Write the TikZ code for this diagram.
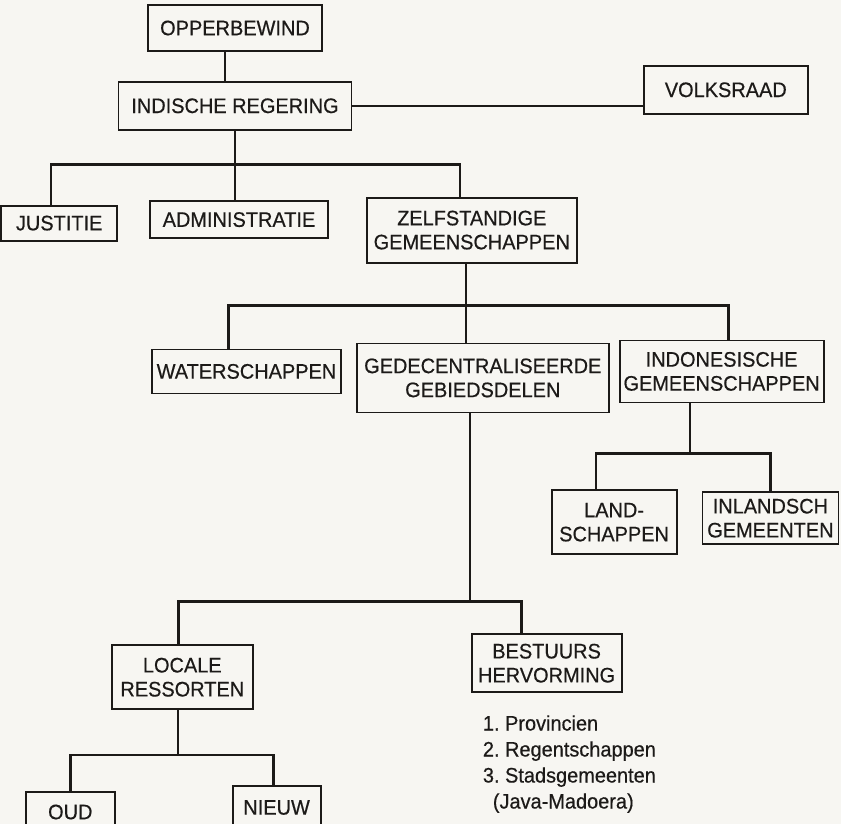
\documentclass[tikz,border=0pt]{standalone}
\usepackage{fontspec}
\setmainfont{Liberation Sans}[FakeStretch=0.95, FakeBold=0.5]
\usetikzlibrary{positioning}
\definecolor{paper}{RGB}{247,246,242}
\definecolor{ink}{RGB}{28,26,24}

\begin{document}
\begin{tikzpicture}[
    x=1pt, y=1pt,
    node distance=30pt,
    box/.style={draw=ink, line width=1.8pt, inner sep=2pt, align=center, text=ink, font=\fontsize{21}{24}\selectfont},
    link/.style={draw=ink, line width=1.8pt},
    bus/.style={draw=ink, line width=2.5pt},
    lbl/.style={inner sep=0pt, align=left, text=ink, font=\fontsize{21}{26}\selectfont\frenchspacing}
  ]

  % Page
  \fill[paper] (0,0) rectangle (841,-824);
  \useasboundingbox (0,0) rectangle (841,-824);

  % Level 1: top of the government
  \node[box, minimum width=174pt, minimum height=46pt] (opper) at (235,-28) {OPPERBEWIND};
  \node[box, below=29pt of opper, minimum width=233pt, minimum height=48pt] (indisch) {INDISCHE REGERING};
  \node[box, right=290.5pt of indisch, yshift=16pt, minimum width=164pt, minimum height=48pt] (volks) {VOLKSRAAD};

  % Level 2: three pillars
  \node[box, below=69.5pt of indisch, xshift=4pt, minimum width=178pt, minimum height=37pt] (admin) {ADMINISTRATIE};
  \node[box, left=31pt of admin, yshift=-3.5pt, minimum width=116pt, minimum height=35pt] (justitie) {JUSTITIE};
  \node[box, right=37pt of admin, yshift=-10.5pt, minimum width=210pt, minimum height=65pt] (zelf) {ZELFSTANDIGE\\GEMEENSCHAPPEN};

  % Level 3: zelfstandige gemeenschappen
  \node[box, below=79pt of zelf, xshift=11pt, minimum width=252pt, minimum height=69pt] (gedec) {GEDECENTRALISEERDE\\GEBIEDSDELEN};
  \node[box, left=14pt of gedec, yshift=6.5pt, minimum width=189pt, minimum height=44pt] (water) {WATERSCHAPPEN};
  \node[box, right=9pt of gedec, yshift=6.5pt, minimum width=204pt, minimum height=62pt] (indon) {INDONESISCHE\\GEMEENSCHAPPEN};

  % Level 4: indonesische gemeenschappen
  \node[box, below=86pt of indon, xshift=-107.5pt, minimum width=125pt, minimum height=64pt] (land) {LAND-\\SCHAPPEN};
  \node[box, right=24pt of land, yshift=4pt, minimum width=136pt, minimum height=52pt] (inland) {INLANDSCH\\GEMEENTEN};

  % Level 4: gedecentraliseerde gebiedsdelen
  \node[box, below=231pt of gedec, xshift=-300.5pt, minimum width=141pt, minimum height=64pt] (locale) {LOCALE\\RESSORTEN};
  \node[box, right=217pt of locale, yshift=14pt, minimum width=150pt, minimum height=58pt] (bestuurs) {BESTUURS\\HERVORMING};
  \node[lbl, below=22pt of bestuurs.south west, anchor=north west, xshift=12pt] (list) {1. Provincien\\2. Regentschappen\\3. Stadsgemeenten\\\hspace*{10pt}(Java-Madoera)};

  % Level 5: locale ressorten
  \node[box, below=81pt of locale, xshift=-112pt, minimum width=89pt, minimum height=40pt] (oud) {OUD};
  \node[box, right=116pt of oud, yshift=4.5pt, minimum width=88pt, minimum height=43pt] (nieuw) {NIEUW};

  % Connectors: top
  \draw[link] ([xshift=-10pt]opper.south) -- ([xshift=-10pt]opper.south |- indisch.north);
  \draw[bus] (indisch.east) -- (indisch.east -| volks.west);

  % Connectors: indische regering -> pillars
  \draw[link] (indisch.south) -- ++(0,-34pt) coordinate (bus1) -- (indisch.south |- admin.north);
  \draw[bus] ([xshift=-8pt]justitie.north) |- (bus1) -| ([xshift=-12pt]zelf.north);

  % Connectors: zelfstandige gemeenschappen -> level 3
  \draw[link] ([xshift=-6pt]zelf.south) -- ++(0,-42pt) coordinate (bus2) -- ([xshift=-6pt]zelf.south |- gedec.north);
  \draw[bus] ([xshift=-18pt]water.north) |- (bus2) -| ([xshift=7pt]indon.north);

  % Connectors: indonesische gemeenschappen -> level 4
  \draw[link] ([xshift=-32pt]indon.south) -- ++(0,-50pt) coordinate (bus3);
  \draw[bus] ([xshift=-18pt]land.north) |- (bus3) -| (inland.north);

  % Connectors: gedecentraliseerde gebiedsdelen -> level 4
  \draw[link] ([xshift=-13pt]gedec.south) -- ++(0,-188pt) coordinate (bus4);
  \draw[bus] ([xshift=-4pt]locale.north) |- (bus4) -| ([xshift=-25pt]bestuurs.north);

  % Connectors: locale ressorten -> level 5
  \draw[link] ([xshift=-4pt]locale.south) -- ++(0,-45pt) coordinate (bus5);
  \draw[bus] (oud.north) |- (bus5) -| ([xshift=-3pt]nieuw.north);

\end{tikzpicture}
\end{document}
